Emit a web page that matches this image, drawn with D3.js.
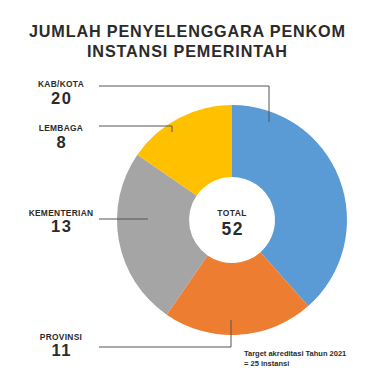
<!DOCTYPE html>
<html><head><meta charset="utf-8">
<script src="https://cdn.jsdelivr.net/npm/d3@7"></script>
<style>
html,body{margin:0;padding:0;background:#fff;}
text{font-family:"Liberation Sans",Arial,sans-serif;font-weight:700;fill:#2b2b2b;}
</style></head>
<body><svg id="c" width="380" height="380"></svg>
<script>
const titleLines = ["JUMLAH PENYELENGGARA PENKOM", "INSTANSI PEMERINTAH"];
const categories = ["KAB/KOTA", "PROVINSI", "KEMENTERIAN", "LEMBAGA"];
const values = [20, 11, 13, 8];
const colors = ["#5B9BD5", "#ED7D31", "#A5A5A5", "#FFC000"];
const totalLabel = "TOTAL";
const noteLines = ["Target akreditasi Tahun 2021", "= 25 instansi"];

const svg = d3.select("#c");
const cx = 232, cy = 220, R = 115, r0 = 43;

// title (fit to reference widths)
const titleW = [316, 200];
const tt = svg.append("text").attr("font-size",16.2);
titleLines.forEach((d,i)=>{
  tt.append("tspan").attr("x",187-titleW[i]/2).attr("y",37+i*20)
    .attr("textLength",titleW[i]).attr("lengthAdjust","spacing").text(d);
});

const pie = d3.pie().sort(null).value(d=>d)(values);
const arc = d3.arc().innerRadius(r0).outerRadius(R);
const g = svg.append("g").attr("transform",`translate(${cx},${cy})`);
g.selectAll("path").data(pie).enter().append("path")
  .attr("d",arc).attr("fill",(d,i)=>colors[i]);

// total
const total = d3.sum(values);
g.append("text").attr("text-anchor","middle").attr("x",0).attr("y",-4)
  .attr("font-size",8.5).attr("letter-spacing",0.4).text(totalLabel);
g.append("text").attr("text-anchor","middle").attr("x",0.8).attr("y",15.2)
  .attr("font-size",17.5).attr("letter-spacing",1.6).text(total);

// labels layout: label baseline y, leader line points
const layout = [
  {ly:87.3, pts:[[99,86],[269,86],[269,122]]},
  {ly:339.5, pts:[[99,347],[231,347],[231,320]]},
  {ly:215.5, pts:[[99,219],[148,219]]},
  {ly:130.8, pts:[[99,126],[172,126],[172,132]]}
];
const lx = 61;
categories.forEach((c,i)=>{
  const L = layout[i];
  svg.append("text").attr("x",lx).attr("y",L.ly).attr("text-anchor","middle")
    .attr("font-size",8.4).attr("letter-spacing",0.3).text(c);
  svg.append("text").attr("x",lx+0.8).attr("y",L.ly+16.9).attr("text-anchor","middle")
    .attr("font-size",16.5).attr("letter-spacing",1.6).text(values[i]);
  svg.append("path").attr("d",d3.line()(L.pts)).attr("fill","none")
    .attr("stroke","#555").attr("stroke-width",1);
});

noteLines.forEach((d,i)=>{
  svg.append("text").attr("x",244).attr("y",356+i*10).attr("font-size",7.5).text(d);
});
</script></body></html>
